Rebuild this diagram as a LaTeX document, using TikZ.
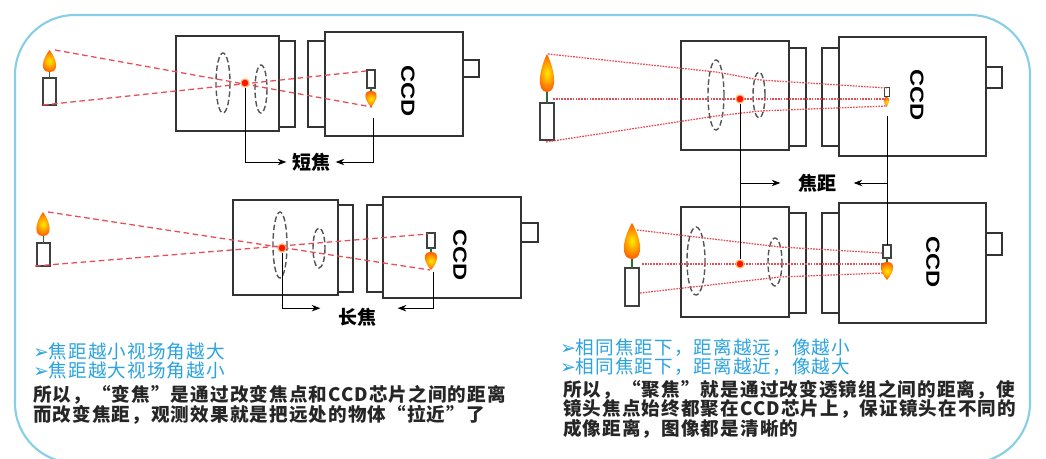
\documentclass[tikz,border=0pt]{standalone}
\usepackage{fontspec}
\setmainfont{Liberation Sans}
\newfontfamily\cjk{Noto Sans CJK SC}
\newfontfamily\cjkwide[LetterSpace=6]{Noto Sans CJK SC}
\newfontfamily\sym{DejaVu Sans}
\usetikzlibrary{arrows.meta,positioning}

\definecolor{framecyan}{HTML}{86CFE6}
\definecolor{tipblue}{HTML}{2BA3DE}
\definecolor{rayred}{HTML}{E84C55}
\definecolor{lensgray}{HTML}{555555}
\definecolor{wickgreen}{HTML}{2E6B3A}

% teardrop flame, base at (0,0), tip one unit up
\tikzset{
    flame/.pic={
        \shade[inner color=yellow!85!orange, outer color=orange!70!red]
            (0,0) .. controls (-0.75,0) and (-0.6,-0.55) .. (0,-1)
            .. controls (0.6,-0.55) and (0.75,0) .. (0,0) -- cycle;
    }
}

\begin{document}
\begin{tikzpicture}[
    x=0.025cm, y=-0.025cm,
    box/.style={draw=black!80, line width=0.8pt},
    lens/.style={draw=lensgray, dash pattern=on 4pt off 2pt, line width=1pt},
    ray/.style={draw=rayred, line width=0.9pt, dash pattern=on 4pt off 2.5pt},
    rayfine/.style={draw=rayred, line width=0.9pt, dash pattern=on 1.2pt off 0.8pt},
    candle/.style={draw=black!75, line width=0.9pt, fill=white},
    wick/.style={draw=wickgreen, line width=1pt},
    fdot/.style={circle, fill=red!85!orange, draw=orange!60, line width=0.8pt,
        minimum size=0.2cm, inner sep=0pt},
    ccd/.style={font=\bfseries\fontsize{13.5}{13.5}\selectfont, rotate=-90},
    lbl/.style={font=\cjk\bfseries\fontsize{13.5}{14}\selectfont, inner sep=1pt},
    brk/.style={draw=black, line width=0.7pt},
    tip/.style={font=\cjkwide\fontsize{13.2}{13.8}\selectfont, text=tipblue,
        align=left, inner sep=0pt, anchor=west},
    note/.style={font=\cjkwide\bfseries\fontsize{13.2}{13.8}\selectfont, text=black!85,
        align=left, inner sep=0pt, anchor=west},
    >=Stealth
]
\useasboundingbox (0,0) rectangle (1046,459);
\fill[white] (0,0) rectangle (1046,459);
\draw[framecyan, line width=1.5pt, rounded corners=1.5cm] (15,15) rectangle (1030,463);

% Short focus (top left)
\draw[box] (176,36) rectangle (279,131);
\draw[box] (279,41) rectangle (295,127);
\draw[box] (308,41) rectangle (325,127);
\draw[box] (325,32) rectangle (463,136);
\draw[box] (463,60) rectangle (479,77);
\node[ccd] (ccdA) at (408,91) {\scalebox{1.25}[1]{CCD}};
\draw[lens] (223,83) ellipse [x radius=7, y radius=30];
\draw[lens] (261,89) ellipse [x radius=6, y radius=24];
\draw[candle] (43,78) rectangle (56,105);
\draw[wick] (49.5,78) -- (49.5,72);
\pic[xscale=13, yscale=22] at (49.5,72) {flame};
\draw[candle, line width=0.8pt] (367,70) rectangle (375,88);
\draw[wick] (371,88) -- (371,92);
\pic[xscale=11, yscale=-16] at (371,91) {flame};
\draw[ray] (55,50) -- (372,107);
\draw[ray] (43,105) -- (366,71);
\node[fdot] (fA) at (245,83) {};
\coordinate (iA) at (373,118);
\node[lbl] (lA) at (311,162) {短焦};
\draw[brk, ->] (fA) |- ([xshift=-0.1cm]lA.west);
\draw[brk, ->] (iA) |- ([xshift=0.1cm]lA.east);

% Long focus (bottom left)
\draw[box] (233,200) rectangle (338,295);
\draw[box] (338,205) rectangle (353,292);
\draw[box] (367,205) rectangle (383,292);
\draw[box] (383,197) rectangle (521,298);
\draw[box] (521,223) rectangle (538,242);
\node[ccd] (ccdB) at (460,255) {\scalebox{1.25}[1]{CCD}};
\draw[lens] (280,245) ellipse [x radius=7, y radius=33];
\draw[lens] (319,248) ellipse [x radius=6, y radius=20];
\draw[candle] (37,243) rectangle (50,266);
\draw[wick] (43.5,243) -- (43.5,236);
\pic[xscale=13, yscale=24] at (43,236) {flame};
\draw[candle, line width=0.8pt] (427,233) rectangle (435,248);
\draw[wick] (431,248) -- (431,253);
\pic[xscale=12, yscale=-18] at (431,252) {flame};
\draw[ray] (48,212) -- (430,270);
\draw[ray] (35,266) -- (428,234);
\node[fdot] (fB) at (282,248) {};
\coordinate (iB) at (433,272);
\node[lbl] (lB) at (357,317) {长焦};
\draw[brk, ->] (fB) |- ([xshift=-0.4cm,yshift=0.22cm]lB.west);
\draw[brk, ->] (iB) |- ([xshift=0.5cm,yshift=0.22cm]lB.east);

% Focusing, far object (top right)
\draw[box] (681,41) rectangle (789,150);
\draw[box] (789,48) rectangle (806,146);
\draw[box] (822,48) rectangle (839,146);
\draw[box] (839,37) rectangle (986,156);
\draw[box] (986,67) rectangle (1002,88);
\node[ccd] (ccdC) at (917,95) {\scalebox{1.25}[1]{CCD}};
\draw[lens] (716,95) ellipse [x radius=8, y radius=35];
\draw[lens] (759,95) ellipse [x radius=6, y radius=23];
\draw[candle] (540,103) rectangle (554,140);
\draw[wick] (547,103) -- (547,92);
\pic[xscale=14, yscale=38] at (547,92) {flame};
\draw[candle, line width=0.6pt] (884,87) rectangle (889,96);
\pic[xscale=5, yscale=-10] at (886.5,97) {flame};
\draw[rayfine] (548,54) -- (716,72) -- (760,80) -- (887,88);
\draw[rayfine] (553,99) -- (886,99);
\draw[rayfine] (546,142) -- (716,116) -- (760,111) -- (887,106);
\node[fdot] (fC) at (740,99) {};
\coordinate (iC) at (887,116);

% Focusing, near object (bottom right)
\draw[box] (681,207) rectangle (789,317);
\draw[box] (789,213) rectangle (806,313);
\draw[box] (822,213) rectangle (839,313);
\draw[box] (839,203) rectangle (986,323);
\draw[box] (986,233) rectangle (1002,255);
\node[ccd] (ccdD) at (933,262) {\scalebox{1.25}[1]{CCD}};
\draw[lens] (696,261) ellipse [x radius=9, y radius=34];
\draw[lens] (775,262) ellipse [x radius=7, y radius=24];
\draw[candle] (625,268) rectangle (639,306);
\draw[wick] (632,268) -- (632,258);
\pic[xscale=16, yscale=36] at (632,259) {flame};
\draw[candle, line width=0.8pt] (883,245) rectangle (891,258);
\draw[wick] (887,258) -- (887,263);
\pic[xscale=12, yscale=-18] at (887,262) {flame};
\draw[rayfine] (637,230) -- (780,247) -- (883,253);
\draw[rayfine] (642,264) -- (883,264);
\draw[rayfine] (640,293) -- (780,277) -- (883,273);
\node[fdot] (fD) at (740,264) {};
\coordinate (iD) at (887,245);

% focal length between the two right cameras
\node[lbl] (lC) at (817,183) {焦距};
\draw[brk] (fC) -- (fD);
\draw[brk] (iC) -- (iD);
\draw[brk, ->] (fC |- lC) -- ([xshift=-0.4cm]lC.west);
\draw[brk, ->] (iC |- lC) -- ([xshift=0.4cm]lC.east);

% notes
\node[tip] (tipL) at (33,361) {{\sym ➢}焦距越小视场角越大\\{\sym ➢}焦距越大视场角越小};
\node[note] (noteL) at (33,405) {所以，“变焦”是通过改变焦点和CCD芯片之间的距离\\而改变焦距，观测效果就是把远处的物体“拉近”了};
\node[tip] (tipR) at (560,357) {{\sym ➢}相同焦距下，距离越远，像越小\\{\sym ➢}相同焦距下，距离越近，像越大};
\node[note] (noteR) at (563,409) {所以，“聚焦”就是通过改变透镜组之间的距离，使\\镜头焦点始终都聚在CCD芯片上，保证镜头在不同的\\成像距离，图像都是清晰的};
\end{tikzpicture}
\end{document}
